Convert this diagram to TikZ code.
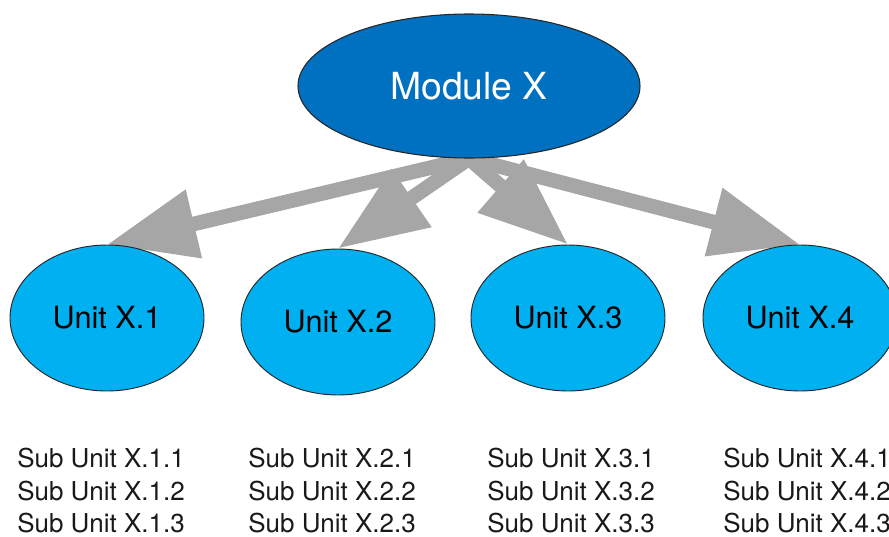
\documentclass[tikz,border=0pt]{standalone}
\usepackage{fontspec}
\setmainfont{TeX Gyre Heros}
\usetikzlibrary{arrows.meta,shapes.geometric}
\pgfdeclarelayer{background}
\pgfsetlayers{background,main}
\definecolor{moduleblue}{HTML}{0070C0}
\definecolor{unitblue}{HTML}{00B0F0}
\definecolor{linkgray}{HTML}{A6A6A6}
\tikzset{
  modulebox/.style={ellipse,draw=black!85,line width=0.8pt,fill=moduleblue,
    minimum width=256.5pt,minimum height=108pt,inner sep=0pt,
    text=white,font=\fontsize{28}{32}\selectfont},
  unitbox/.style={ellipse,draw=black!85,line width=0.7pt,fill=unitblue,
    minimum width=145.5pt,minimum height=109.5pt,inner sep=0pt,
    text=black,font=\fontsize{23}{27}\selectfont},
  subline/.style={anchor=base west,inner sep=0pt,text=black!90,
    font=\fontsize{19.5}{23}\selectfont},
  link/.style={draw=linkgray,line width=11pt,
    -{Triangle[length=67pt,width=50pt,fill=linkgray]}}
}
\begin{document}
\begin{tikzpicture}[x=0.75pt,y=-0.75pt]
  \useasboundingbox (0,0) rectangle (889,536);
  % top module
  \node[modulebox] (mod) at (469,86) {Module X};
  % units
  \node[unitbox] (u1) at (107,318) {Unit X.1};
  \node[unitbox] (u2) at (338,322) {Unit X.2};
  \node[unitbox] (u3) at (568,318) {Unit X.3};
  \node[unitbox] (u4) at (800,318) {Unit X.4};
  % connectors, kept behind the ellipses
  \begin{pgfonlayer}{background}
    \foreach \u in {u1,u2,u3,u4}
      \draw[link] (mod.south) -- (\u.north);
  \end{pgfonlayer}
  % sub-unit lists
  \foreach \c/\x in {1/17,2/248,3/487,4/723}
    \foreach \r/\y in {1/467,2/500,3/532}
      \node[subline] (s\c\r) at (\x,\y) {Sub Unit X.\c.\r};
\end{tikzpicture}
\end{document}
